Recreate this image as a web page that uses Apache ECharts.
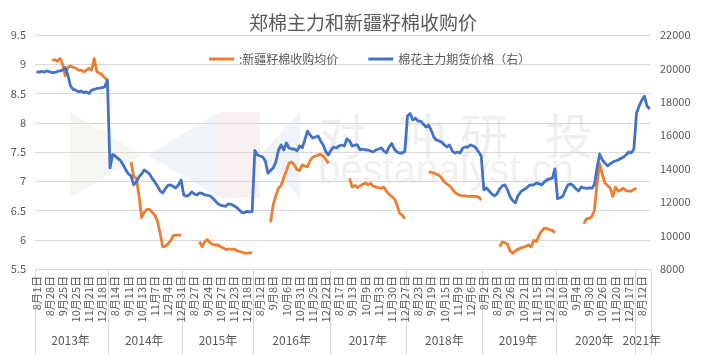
<!DOCTYPE html>
<html>
<head>
<meta charset="utf-8">
<script src="https://cdn.jsdelivr.net/npm/echarts@6/dist/echarts.min.js"></script>
<style>
html,body{margin:0;padding:0;background:#ffffff;}
#chart{width:701px;height:355px;}
</style>
</head>
<body>
<div id="chart"></div>
<script>
// ---- categories / tick labels ----
const yearNames = ['2013年','2014年','2015年','2016年','2017年','2018年','2019年','2020年','2021年'];
const tickLabels = [
  '8月1日','8月28日','9月25日','10月25日','11月21日','12月18日',
  '8月14日','9月11日','10月13日','11月7日','12月4日','12月31日',
  '8月27日','9月24日','10月27日','11月23日','12月18日',
  '8月12日','9月8日','10月6日','10月31日','11月25日','12月22日',
  '8月17日','9月13日','10月9日','11月3日','11月30日','12月27日',
  '8月23日','9月19日','10月15日','11月9日','12月6日',
  '8月2日','8月29日','9月26日','10月21日','11月15日','12月12日',
  '8月10日','9月4日','9月30日','10月26日','11月20日','12月17日',
  '8月12日'
];
const labelStep = 5; // one tick label every 5 samples

// ---- 棉花主力期货价格（右） (yuan/ton), samples per season ----
const futures2013 = [19800,19780,19820,19780,19850,19800,19750,19760,19820,19850,19900,20050,19600,18950,18750,18700,18600,18650,18550,18600,18500,18700,18750,18800,18820,18850,18900,19300];
const futures2014 = [14050,14850,14760,14610,14490,14220,13930,13690,13570,13030,13210,13510,13690,13930,13810,13690,13420,13210,12970,12670,12550,12790,13000,13030,12940,12850,13030,13330];
const futures2015 = [12430,12350,12430,12610,12490,12430,12550,12520,12430,12400,12380,12230,12080,11900,11810,11780,11750,11900,11870,11780,11690,11540,11390,11360,11450,11420,11450];
const futures2016 = [15100,14820,14760,14700,14460,13730,13900,14050,14400,15120,15420,15120,15540,15240,15180,15180,15060,15360,15240,15720,16250,16020,15840,15900,15960,15660,15420,15000,14820];
const futures2017 = [15120,15300,15240,15360,15420,15360,15780,15660,15360,15420,15420,15120,15180,15120,15120,15060,15000,15120,15180,15240,15060,14940,15300,15510,15180,15000,14940,14940,15030];
const futures2018 = [17150,17300,16910,17030,16850,16850,16670,16490,16610,16310,15900,15720,15660,15600,15420,15300,15420,15060,14940,15000,14940,15240,15300,15300,15420,15360,15240,15000,14760];
const futures2019 = [12730,12850,12670,12490,12380,12490,12790,12970,13030,12730,12320,12080,11960,12380,12610,12730,12820,12970,13030,13030,13150,13090,13030,13210,13330,13390,13420,13990];
const futures2020 = [12200,12260,12350,12730,13030,13090,12970,12790,12670,12910,12850,12820,12850,12820,13030,14050,14880,14520,14340,14170,14290,14400,14460,14520,14610,14700,14820,15000,14940,15180];
const futures2021 = [17330,17750,18100,18340,17750,17570];

// ---- :新疆籽棉收购均价 (yuan/kg), same samples ----
const seed2013 = [null,null,null,null,null,null,9.06,9.08,9.05,9.1,9.0,8.8,8.95,8.97,8.95,8.93,8.9,8.9,8.87,8.9,8.93,8.9,9.1,8.87,8.85,8.82,8.77,8.73];
const seed2014 = [null,null,null,null,null,null,null,null,7.33,7.08,7.05,6.75,6.38,6.47,6.52,6.52,6.47,6.42,6.32,6.12,5.88,5.89,5.93,5.98,6.07,6.08,6.08,6.08];
const seed2015 = [null,null,null,null,null,null,5.97,5.88,5.97,6.0,5.95,5.92,5.91,5.91,5.88,5.86,5.83,5.84,5.84,5.84,5.82,5.80,5.79,5.77,5.77,5.775,5.78];
const seed2016 = [null,null,null,null,null,null,6.3,6.6,6.75,6.88,6.93,7.06,7.18,7.31,7.33,7.28,7.2,7.18,7.28,7.26,7.25,7.35,7.41,7.43,7.45,7.46,7.43,7.37,7.31];
const seed2017 = [null,null,null,null,null,null,null,7.05,6.9,6.93,6.89,6.92,6.95,6.97,6.94,6.96,6.92,6.90,6.89,6.88,6.90,6.83,6.78,6.74,6.70,6.60,6.45,6.42,6.36];
const seed2018 = [null,null,null,null,null,null,null,null,7.16,7.15,7.14,7.12,7.1,7.05,6.99,6.95,6.92,6.87,6.81,6.78,6.76,6.75,6.75,6.74,6.74,6.74,6.74,6.73,6.68];
const seed2019 = [null,null,null,null,null,null,5.88,5.96,5.95,5.92,5.81,5.77,5.81,5.84,5.86,5.87,5.89,5.91,5.88,5.99,5.97,6.08,6.15,6.2,6.19,6.17,6.16,6.12];
const seed2020 = [null,null,null,null,null,null,null,null,null,null,6.27,6.36,6.36,6.4,6.5,6.95,7.3,7.12,6.97,6.93,6.88,6.74,6.9,6.83,6.85,6.88,6.84,6.83,6.83,6.86];
const seed2021 = [6.88,null,null,null,null,null];

// ---- assemble ----
const futuresByYear = [futures2013,futures2014,futures2015,futures2016,futures2017,futures2018,futures2019,futures2020,futures2021];
const seedByYear = [seed2013,seed2014,seed2015,seed2016,seed2017,seed2018,seed2019,seed2020,seed2021];
const futures = [].concat(...futuresByYear);
const seed = [].concat(...seedByYear);

const yearStart = [];
const yearOfIndex = [];
let acc = 0;
futuresByYear.forEach((arr, y) => {
  yearStart.push(acc);
  for (let k = 0; k < arr.length; k++) yearOfIndex.push(y);
  acc += arr.length;
});
const yearCenter = futuresByYear.map((arr, y) => yearStart[y] + Math.floor((arr.length - 1) / 2));

const categories = futures.map((_, i) => (i % labelStep === 0 ? tickLabels[i / labelStep] : ''));
const yearCategories = futures.map((_, i) => yearNames[yearOfIndex[i]]);

const FONT = '"Noto Sans CJK SC", "Liberation Sans", sans-serif';
const GREY = '#595959';
const GRID = '#D9D9D9';

const chart = echarts.init(document.getElementById('chart'), null, {renderer: 'canvas'});
chart.setOption({
  animation: false,
  backgroundColor: '#ffffff',
  title: {
    text: '郑棉主力和新疆籽棉收购价',
    left: 244,
    top: 8,
    textStyle: {fontSize: 19, fontWeight: 'normal', color: GREY, fontFamily: FONT}
  },
  legend: {
    top: 48,
    left: 204,
    itemWidth: 25,
    itemHeight: 3,
    itemGap: 30,
    icon: 'rect',
    textStyle: {fontSize: 12, color: GREY, fontFamily: FONT},
    data: [':新疆籽棉收购均价', '棉花主力期货价格（右）']
  },
  graphic: [
    {type: 'polygon', z: -10, silent: true, shape: {points: [[70,112],[70,198],[142,155]]}, style: {fill: '#F4F7F1'}},
    {type: 'polygon', z: -10, silent: true, shape: {points: [[220,112],[260,112],[260,198],[220,198]]}, style: {fill: '#F9F1F1'}},
    {type: 'polygon', z: -10, silent: true, shape: {points: [[220,112],[220,198],[148,155]]}, style: {fill: '#F0F3F8'}},
    {type: 'polygon', z: -10, silent: true, shape: {points: [[300,112],[300,198],[260,155]]}, style: {fill: '#F0F3F8'}},
    {type: 'text', z: -10, silent: true, left: 318, top: 112, style: {text: '对', fontSize: 48, fill: '#EFEFEF', fontFamily: FONT}},
    {type: 'text', z: -10, silent: true, left: 398, top: 112, style: {text: '冲', fontSize: 48, fill: '#EFEFEF', fontFamily: FONT}},
    {type: 'text', z: -10, silent: true, left: 460, top: 112, style: {text: '研', fontSize: 48, fill: '#EFEFEF', fontFamily: FONT}},
    {type: 'text', z: -10, silent: true, left: 545, top: 112, style: {text: '投', fontSize: 48, fill: '#EFEFEF', fontFamily: FONT}},
    {type: 'text', z: -10, silent: true, left: 318, top: 152, style: {text: 'bestanalyst.cn', fontSize: 40, fill: '#F0F0F0', fontFamily: '"Liberation Sans", sans-serif'}}
  ],
  grid: {left: 35, right: 50, top: 35, bottom: 86, containLabel: false},
  xAxis: [
    {
      type: 'category',
      data: categories,
      boundaryGap: true,
      position: 'bottom',
      axisLine: {show: true, lineStyle: {color: GRID, width: 1}},
      axisTick: {show: false},
      splitLine: {show: false},
      axisLabel: {
        rotate: 90,
        interval: (idx) => idx % labelStep === 0,
        fontSize: 11,
        color: GREY,
        margin: 7,
        fontFamily: FONT
      }
    },
    {
      type: 'category',
      data: yearCategories,
      boundaryGap: true,
      position: 'bottom',
      axisLine: {show: false},
      axisTick: {
        show: true,
        length: 86,
        interval: (idx) => yearStart.indexOf(idx) >= 0,
        lineStyle: {color: GRID, width: 1}
      },
      splitLine: {show: false},
      axisLabel: {
        interval: (idx) => yearCenter.indexOf(idx) >= 0,
        fontSize: 12,
        color: GREY,
        margin: 65,
        fontFamily: FONT
      }
    }
  ],
  yAxis: [
    {
      type: 'value',
      position: 'left',
      min: 5.5,
      max: 9.5,
      interval: 0.5,
      axisLine: {show: false},
      axisTick: {show: false},
      splitLine: {show: true, lineStyle: {color: GRID, width: 1}},
      axisLabel: {fontSize: 11, color: GREY, margin: 9, fontFamily: FONT}
    },
    {
      type: 'value',
      position: 'right',
      min: 8000,
      max: 22000,
      interval: 2000,
      axisLine: {show: false},
      axisTick: {show: false},
      splitLine: {show: false},
      axisLabel: {fontSize: 11, color: GREY, margin: 9, fontFamily: FONT, formatter: (v) => String(v)}
    }
  ],
  series: [
    {
      name: ':新疆籽棉收购均价',
      type: 'line',
      xAxisIndex: 0,
      yAxisIndex: 0,
      data: seed,
      showSymbol: false,
      symbol: 'none',
      connectNulls: false,
      itemStyle: {color: '#ED7D31'},
      lineStyle: {color: '#ED7D31', width: 2.8, join: 'round'},
      z: 3
    },
    {
      name: '棉花主力期货价格（右）',
      type: 'line',
      xAxisIndex: 0,
      yAxisIndex: 1,
      data: futures,
      showSymbol: false,
      symbol: 'none',
      itemStyle: {color: '#4472C4'},
      lineStyle: {color: '#4472C4', width: 2.8, join: 'round'},
      z: 4
    }
  ]
});
</script>
</body>
</html>
